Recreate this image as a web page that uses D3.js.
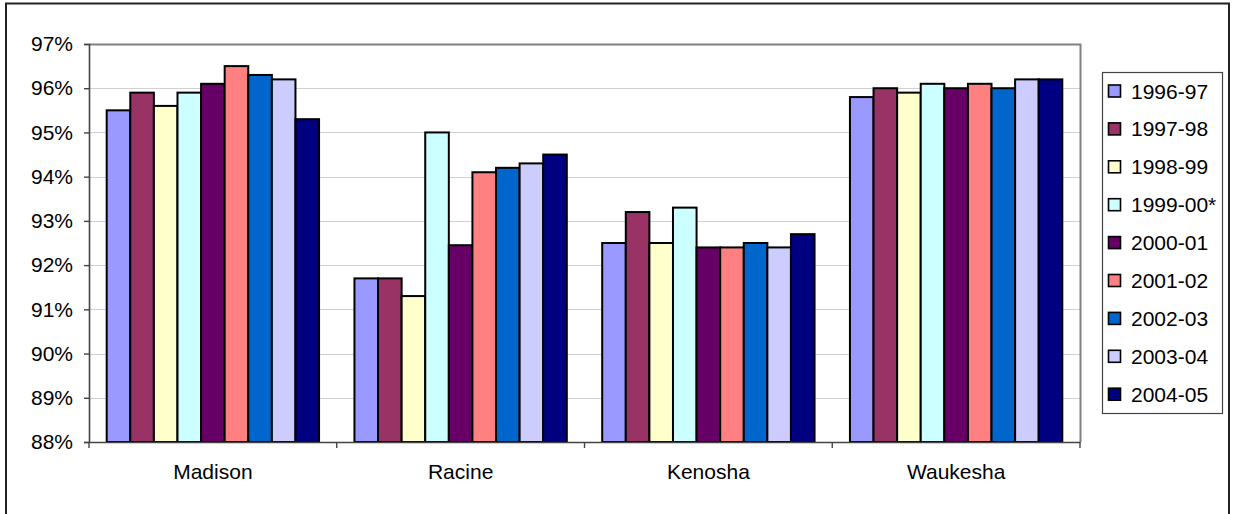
<!DOCTYPE html>
<html><head><meta charset="utf-8">
<script src="https://cdn.jsdelivr.net/npm/d3@7"></script>
<style>body{margin:0;background:#fff}svg{display:block;font-family:"Liberation Sans",Arial,sans-serif}</style>
</head><body><svg id="c" width="1233" height="514"></svg>
<script>
const categories = ["Madison","Racine","Kenosha","Waukesha"];
const seriesNames = ["1996-97","1997-98","1998-99","1999-00*","2000-01","2001-02","2002-03","2003-04","2004-05"];
const seriesColors = ["#9999FF","#993366","#FFFFCC","#CCFFFF","#660066","#FF8080","#0066CC","#CCCCFF","#000080"];
const madison  = [95.5, 95.9, 95.6, 95.9, 96.1, 96.5, 96.3, 96.2, 95.3];
const racine   = [91.7, 91.7, 91.3, 95.0, 92.45, 94.1, 94.2, 94.3, 94.5];
const kenosha  = [92.5, 93.2, 92.5, 93.3, 92.4, 92.4, 92.5, 92.4, 92.7];
const waukesha = [95.8, 96.0, 95.9, 96.1, 96.0, 96.1, 96.0, 96.2, 96.2];
const values = [madison, racine, kenosha, waukesha];
const yTicks = [88,89,90,91,92,93,94,95,96,97];

const svg = d3.select("#c");
const L = 89, R = 1080, T = 44, B = 442;
const FS = 21;

// outer frame
svg.append("rect").attr("x",6).attr("y",3.5).attr("width",1223).attr("height",530)
  .attr("fill","none").attr("stroke","#222").attr("stroke-width",2);

const y = d3.scaleLinear().domain([88,97]).range([B,T]);
const x0 = d3.scaleBand().domain(categories).range([L,R]).paddingInner(0).paddingOuter(0);
const x1 = d3.scaleBand().domain(seriesNames).range([0,x0.bandwidth()]).paddingOuter(0.75).paddingInner(0);

// gridlines
svg.append("g").selectAll("line").data(yTicks.slice(1,-1)).join("line")
  .attr("x1",L).attr("x2",R).attr("y1",d=>Math.round(y(d))+0.5).attr("y2",d=>Math.round(y(d))+0.5)
  .attr("stroke","#d0d0d0").attr("stroke-width",1.2);
// plot border top/right
svg.append("path").attr("d",`M${L},${T+0.5}H${R+0.5}V${B}`).attr("fill","none").attr("stroke","#808080").attr("stroke-width",2);

// bars
const g = svg.append("g");
categories.forEach((c,ci)=>{
  values[ci].forEach((v,si)=>{
    g.append("rect")
      .attr("x",x0(c)+x1(seriesNames[si]))
      .attr("y",y(v))
      .attr("width",x1.bandwidth())
      .attr("height",B-y(v))
      .attr("fill",seriesColors[si])
      .attr("stroke","#000").attr("stroke-width",2);
  });
});

// y axis
const ya = svg.append("g").attr("transform",`translate(${L},0)`)
  .call(d3.axisLeft(y).tickValues(yTicks).tickFormat(d=>d+"%").tickSize(5).tickPadding(11));
ya.select(".domain").attr("stroke","#444").attr("stroke-width",1.6);
ya.selectAll(".tick line").attr("stroke","#444").attr("stroke-width",1.4);
ya.selectAll("text").attr("font-size",FS).attr("fill","#000").attr("font-family","Liberation Sans, Arial, sans-serif");

// x axis
const xa = svg.append("g").attr("transform",`translate(0,${B})`)
  .call(d3.axisBottom(x0).tickSize(0).tickPadding(22));
xa.select(".domain").attr("stroke","#444").attr("stroke-width",1.6);
xa.selectAll("text").attr("font-size",FS).attr("fill","#000").attr("font-family","Liberation Sans, Arial, sans-serif");
const bounds = [L].concat(categories.map(c=>x0(c)+x0.bandwidth()));
svg.append("g").selectAll("line").data(bounds).join("line")
  .attr("x1",d=>d).attr("x2",d=>d).attr("y1",B).attr("y2",B+6)
  .attr("stroke","#444").attr("stroke-width",1.4);

// legend
const lg = svg.append("g");
lg.append("rect").attr("x",1102.5).attr("y",72.5).attr("width",120).attr("height",341)
  .attr("fill","#fff").attr("stroke","#444").attr("stroke-width",1.2);
seriesNames.forEach((s,i)=>{
  const cy = 91 + i*37.9;
  lg.append("rect").attr("x",1108.5).attr("y",cy-6).attr("width",12).attr("height",12)
    .attr("fill",seriesColors[i]).attr("stroke","#000").attr("stroke-width",1.6);
  lg.append("text").attr("x",1131).attr("y",cy).attr("dy","0.36em")
    .attr("font-size",FS).attr("fill","#000").text(s);
});
</script></body></html>
